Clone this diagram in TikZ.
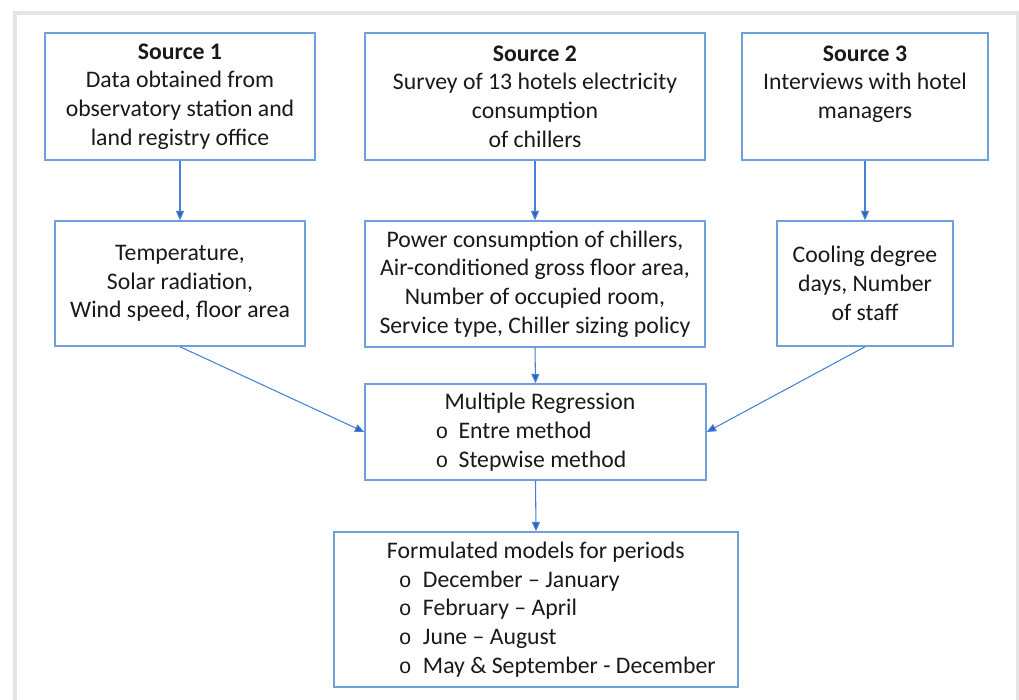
\documentclass[tikz,border=0pt]{standalone}
\usepackage{fontspec}
\setmainfont{Carlito}
\newfontfamily\monof{Liberation Mono}
\usetikzlibrary{arrows.meta}
\definecolor{boxblue}{RGB}{110,160,220}
\definecolor{arrblue}{RGB}{70,130,210}
\definecolor{headblue}{RGB}{40,100,195}
\definecolor{framegray}{RGB}{229,229,229}
\newcommand{\bul}{{\monof\fontsize{16}{16}\selectfont o}}
\tikzset{
  box/.style={draw=boxblue, line width=1.1pt, fill=white, align=center, inner sep=0pt,
    font=\fontsize{17.8}{21.5}\selectfont, text=black!90},
  conn/.style={draw=arrblue, line width=0.8pt, -{Triangle[length=7pt,width=6pt,fill=headblue]}},
}
\begin{document}
\begin{tikzpicture}[x=0.75pt,y=-0.75pt]
\useasboundingbox (0,0) rectangle (1019,699);
\clip (0,0) rectangle (1019,699);
\draw[framegray, line width=3pt] (15,13) rectangle (1017.5,730);

\node[box, minimum width=202.5pt, minimum height=95.25pt] (s1) at (180,96.5)
  {\textbf{Source 1}\\Data obtained from\\observatory station and\\land registry office};
\node[box, minimum width=255pt, minimum height=95.25pt] (s2) at (535,96.5)
  {\textbf{Source 2}\\Survey of 13 hotels electricity\\consumption\\of chillers};
\node[box, minimum width=184.5pt, minimum height=95.25pt] (s3) at (865,96.5)
  {\textbf{Source 3}\\Interviews with hotel\\managers\\\mbox{}};

\node[box, minimum width=187.5pt, minimum height=93.75pt] (a) at (180,283.5)
  {Temperature,\\Solar radiation,\\Wind speed, floor area};
\node[box, minimum width=255pt, minimum height=94.5pt] (b) at (535,284)
  {Power consumption of chillers,\\Air-conditioned gross floor area,\\Number of occupied room,\\Service type, Chiller sizing policy};
\node[box, minimum width=132pt, minimum height=93.75pt] (c) at (865,283.5)
  {Cooling degree\\days, Number\\of staff};

\node[box, align=left, minimum width=255.75pt, minimum height=72pt] (mr) at (535.5,432)
  {\hspace*{6.75pt}Multiple Regression\\
   \makebox[17.25pt][l]{\bul}Entre method\\
   \makebox[17.25pt][l]{\bul}Stepwise method};

\node[box, align=left, minimum width=303pt, minimum height=116.25pt] (f) at (536,609.5)
  {\hspace*{23pt}Formulated models for periods\\
   \hspace*{23pt}\hspace*{9pt}\makebox[18pt][l]{\bul}December -- January\\
   \hspace*{23pt}\hspace*{9pt}\makebox[18pt][l]{\bul}February -- April\\
   \hspace*{23pt}\hspace*{9pt}\makebox[18pt][l]{\bul}June -- August\\
   \hspace*{23pt}\hspace*{9pt}\makebox[18pt][l]{\bul}May \& September - December};

\draw[conn] (s1.south) -- (a.north);
\draw[conn] (s2.south) -- (b.north);
\draw[conn] (s3.south) -- (c.north);
\draw[conn] (a.south) -- (mr.west);
\draw[conn] (b.south) -- (mr.north);
\draw[conn] (c.south) -- (mr.east);
\draw[conn] (mr.south) -- (f.north);
\end{tikzpicture}
\end{document}
